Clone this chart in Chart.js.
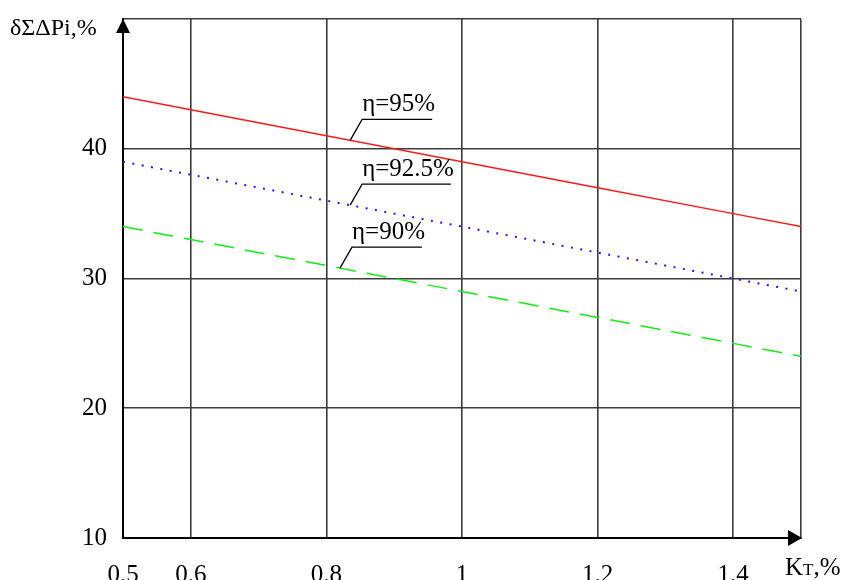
<!DOCTYPE html>
<html>
<head>
<meta charset="utf-8">
<script src="https://cdn.jsdelivr.net/npm/chart.js@4"></script>
<style>
  html, body { margin: 0; padding: 0; background: #fff; overflow: hidden; }
  #wrap { width: 847px; height: 600px; }
</style>
</head>
<body>
<div id="wrap"><canvas id="grafico" width="847" height="600"></canvas></div>
<script>
// Dados
const kt = [0.5, 0.6, 0.8, 1, 1.2, 1.4, 1.5];
const eta95 = [44, 43, 41, 39, 37, 35, 34];
const eta925 = [39, 38, 36, 34, 32, 30, 29];
const eta90 = [34, 33, 31, 29, 27, 25, 24];
const xTicks = [0.5, 0.6, 0.8, 1, 1.2, 1.4, 1.5];
const yTicks = [10, 20, 30, 40, 50];

// Rótulos η e o ponto (em Kт) onde a linha de chamada toca a curva
const rotulos = ['η=95%', 'η=92.5%', 'η=90%'];
const rotuloKt = [0.835, 0.835, 0.82];

const serif = "'Liberation Serif', 'Times New Roman', serif";

function pontos(ys) {
    return kt.map((x, i) => ({ x: x, y: ys[i] }));
}

function interpolar(ys, x) {
    for (let i = 0; i < kt.length - 1; i++) {
        if (x >= kt[i] && x <= kt[i + 1]) {
            const t = (x - kt[i]) / (kt[i + 1] - kt[i]);
            return ys[i] + t * (ys[i + 1] - ys[i]);
        }
    }
    return ys[ys.length - 1];
}

// Setas, títulos dos eixos e rótulos das curvas
const extras = {
    id: 'extras',
    afterDraw(chart) {
        const ctx = chart.ctx;
        const a = chart.chartArea;
        const sx = chart.scales.x, sy = chart.scales.y;
        ctx.save();
        ctx.fillStyle = '#000';

        // seta do eixo y
        ctx.beginPath();
        ctx.moveTo(a.left, a.top);
        ctx.lineTo(a.left - 7, a.top + 14);
        ctx.lineTo(a.left + 7, a.top + 14);
        ctx.closePath();
        ctx.fill();

        // seta do eixo x
        ctx.beginPath();
        ctx.moveTo(a.right + 1, a.bottom);
        ctx.lineTo(a.right - 13, a.bottom - 8);
        ctx.lineTo(a.right - 13, a.bottom + 8);
        ctx.closePath();
        ctx.fill();

        // título do eixo y
        ctx.font = '24px ' + serif;
        ctx.textBaseline = 'alphabetic';
        ctx.textAlign = 'left';
        ctx.fillText('δΣΔPi,%', 10, 35);

        // título do eixo x
        let x = a.right - 16;
        const yb = a.bottom + 37;
        ctx.font = '25px ' + serif;
        ctx.fillText('K', x, yb);
        x += ctx.measureText('K').width;
        ctx.font = '17px ' + serif;
        ctx.fillText('T', x, yb);
        x += ctx.measureText('T').width;
        ctx.font = '25px ' + serif;
        ctx.fillText(',%', x, yb);

        // rótulos η
        const series = [eta95, eta925, eta90];
        ctx.font = '25px ' + serif;
        ctx.strokeStyle = '#000';
        ctx.lineWidth = 1.3;
        rotulos.forEach((txt, i) => {
            const px = sx.getPixelForValue(rotuloKt[i]);
            const py = sy.getPixelForValue(interpolar(series[i], rotuloKt[i]));
            const ux = px + 12, uy = py - 21;
            const w = ctx.measureText(txt).width;
            ctx.beginPath();
            ctx.moveTo(px, py);
            ctx.lineTo(ux, uy);
            ctx.lineTo(ux + w - 3, uy);
            ctx.stroke();
            ctx.fillText(txt, ux, uy - 8);
        });
        ctx.restore();
    }
};

new Chart(document.getElementById('grafico'), {
    type: 'line',
    data: {
        datasets: [
            {
                label: 'η=95%',
                data: pontos(eta95),
                borderColor: '#ff1a1a',
                borderWidth: 1.5,
                pointRadius: 0
            },
            {
                label: 'η=92.5%',
                data: pontos(eta925),
                borderColor: '#1a1aff',
                borderWidth: 2,
                borderDash: [2, 7.5],
                pointRadius: 0
            },
            {
                label: 'η=90%',
                data: pontos(eta90),
                borderColor: '#11ee11',
                borderWidth: 1.5,
                borderDash: [20, 11],
                pointRadius: 0
            }
        ]
    },
    options: {
        responsive: false,
        devicePixelRatio: 1,
        animation: false,
        layout: { padding: { top: 19, right: 46, left: 0, bottom: 0 } },
        plugins: {
            legend: { display: false },
            tooltip: { enabled: false }
        },
        scales: {
            x: {
                type: 'linear',
                min: 0.5,
                max: 1.5,
                afterBuildTicks: scale => { scale.ticks = xTicks.map(v => ({ value: v })); },
                afterFit: scale => {
                    scale.height = 62;
                    scale.paddingLeft = 0;
                    scale.paddingRight = 0;
                },
                grid: { color: '#3c3c3c', lineWidth: 1.6, drawTicks: false },
                border: { color: '#000', width: 2 },
                ticks: {
                    autoSkip: false,
                    maxRotation: 0,
                    padding: 22,
                    color: '#000',
                    font: { family: serif, size: 25 },
                    callback: v => v === 1.5 ? '' : String(v)
                }
            },
            y: {
                min: 10,
                max: 50,
                afterBuildTicks: scale => { scale.ticks = yTicks.map(v => ({ value: v })); },
                afterFit: scale => {
                    scale.width = 123;
                    scale.paddingTop = 0;
                    scale.paddingBottom = 0;
                },
                grid: { color: '#3c3c3c', lineWidth: 1.6, drawTicks: false },
                border: { color: '#000', width: 2 },
                ticks: {
                    padding: 16,
                    color: '#000',
                    font: { family: serif, size: 25 },
                    callback: v => v === 50 ? '' : String(v)
                }
            }
        }
    },
    plugins: [extras]
});
</script>
</body>
</html>
